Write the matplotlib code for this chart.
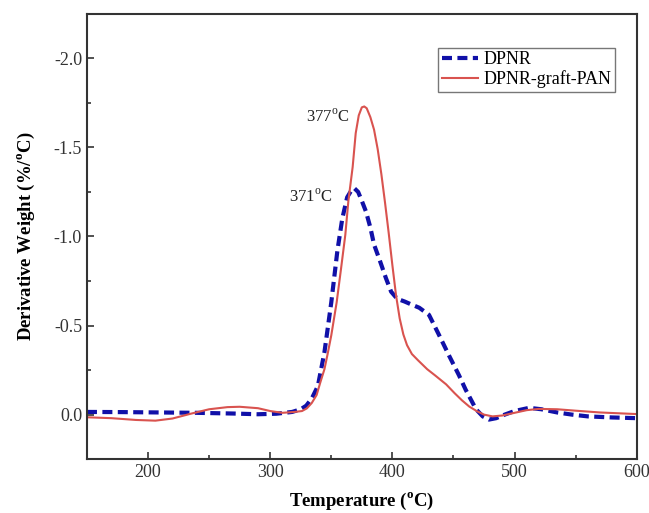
import matplotlib
matplotlib.use('Agg')
from matplotlib import pyplot as plt
from matplotlib.ticker import MultipleLocator, AutoMinorLocator

plt.rcParams['font.family'] = ['Liberation Serif', 'DejaVu Serif']
plt.rcParams['mathtext.fontset'] = 'custom'
plt.rcParams['mathtext.rm'] = 'Liberation Serif'
plt.rcParams['mathtext.bf'] = 'Liberation Serif:bold'

# DTG curves
t_dpnr = [150, 180, 210, 240, 270, 290, 305, 318, 325, 329.5, 334, 339, 344.4,
          350, 355, 359, 363, 367, 369, 372, 375, 378.4, 382, 385, 390, 394.8,
          399, 404, 410, 415, 422, 430, 438, 446.5, 454.6, 460, 468.5, 474,
          479, 485, 492, 500, 512, 522, 535, 547, 560, 580, 600]
dw_dpnr = [-0.015, -0.014, -0.012, -0.01, -0.006, -0.002, -0.005, -0.015,
           -0.03, -0.05, -0.09, -0.16, -0.35, -0.63, -0.92, -1.10, -1.22,
           -1.265, -1.27, -1.25, -1.20, -1.14, -1.05, -0.955, -0.86, -0.765,
           -0.69, -0.65, -0.635, -0.62, -0.60, -0.56, -0.45, -0.33, -0.22,
           -0.14, -0.03, 0.01, 0.028, 0.02, 0.0, -0.02, -0.038, -0.03, -0.012,
           0.0, 0.01, 0.016, 0.02]

t_graft = [150, 170, 190, 206, 220, 235, 250, 265, 275, 290, 300, 310, 320,
           326, 330, 334, 338, 341, 344.4, 347, 350, 354.4, 358, 361.5, 364,
           367.5, 370, 372.5, 375, 377, 379, 382, 385, 388, 391, 394, 397,
           400, 403, 406, 409, 412, 416, 421, 428.5, 435, 444, 451, 457,
           463, 469, 475, 482, 490, 500, 510, 520, 535, 550, 570, 600]
dw_graft = [0.015, 0.02, 0.03, 0.034, 0.022, -0.005, -0.03, -0.042, -0.044,
            -0.036, -0.02, -0.01, -0.015, -0.02, -0.035, -0.065, -0.11, -0.18,
            -0.255, -0.34, -0.445, -0.63, -0.82, -1.01, -1.20, -1.39, -1.58,
            -1.68, -1.725, -1.73, -1.72, -1.67, -1.60, -1.49, -1.35, -1.19,
            -1.02, -0.84, -0.67, -0.54, -0.45, -0.39, -0.34, -0.305, -0.255,
            -0.22, -0.17, -0.12, -0.08, -0.045, -0.02, 0.0, 0.01, 0.005, -0.01,
            -0.025, -0.032, -0.03, -0.022, -0.012, -0.003]

peak_labels = ['377$^{\\mathrm{o}}$C', '371$^{\\mathrm{o}}$C']
peak_pos = [(365, -1.67), (351, -1.22)]

fig = plt.figure(figsize=(6.49, 5.13), dpi=100)
ax = fig.add_axes([0.134, 0.105, 0.847, 0.868])

ax.plot(t_dpnr, dw_dpnr, color='#1010a8', lw=3, ls=(0, (2.4, 1.3)), label='DPNR')
ax.plot(t_graft, dw_graft, color='#d9534f', lw=1.5, label='DPNR-graft-PAN')

for lab, (x, y) in zip(peak_labels, peak_pos):
    ax.text(x, y, lab, ha='right', va='center', fontsize=12, color='#222222')

ax.set_xlim(150, 600)
ax.set_ylim(0.25, -2.25)
ax.xaxis.set_major_locator(MultipleLocator(100))
ax.xaxis.set_minor_locator(AutoMinorLocator(2))
ax.set_yticks([-2.0, -1.5, -1.0, -0.5, 0.0])
ax.set_yticklabels(['-2.0', '-1.5', '-1.0', '-0.5', '0.0'])
ax.yaxis.set_minor_locator(MultipleLocator(0.25))
ax.tick_params(which='both', direction='in', labelsize=13, colors='#333333',
               width=1.2, labelcolor='#333333')
ax.tick_params(which='major', length=5)
ax.tick_params(which='minor', length=3)
for s in ax.spines.values():
    s.set_linewidth(1.5)
    s.set_color('#333333')

ax.set_xlabel('Temperature ($^{\\mathbf{o}}$C)', fontsize=13.5, fontweight='bold', labelpad=7)
ax.set_ylabel('Derivative Weight (%/$^{\\mathbf{o}}$C)', fontsize=13.5, fontweight='bold', labelpad=12)

leg = ax.legend(loc='upper right', bbox_to_anchor=(0.96, 0.924), fontsize=13,
                frameon=True, fancybox=False, handlelength=2.0, borderpad=0.2,
                labelspacing=0.1, handletextpad=0.3, borderaxespad=0.0)
leg.get_frame().set_edgecolor('#555555')
leg.get_frame().set_linewidth(1.0)

fig.savefig('out.png', dpi=100)
